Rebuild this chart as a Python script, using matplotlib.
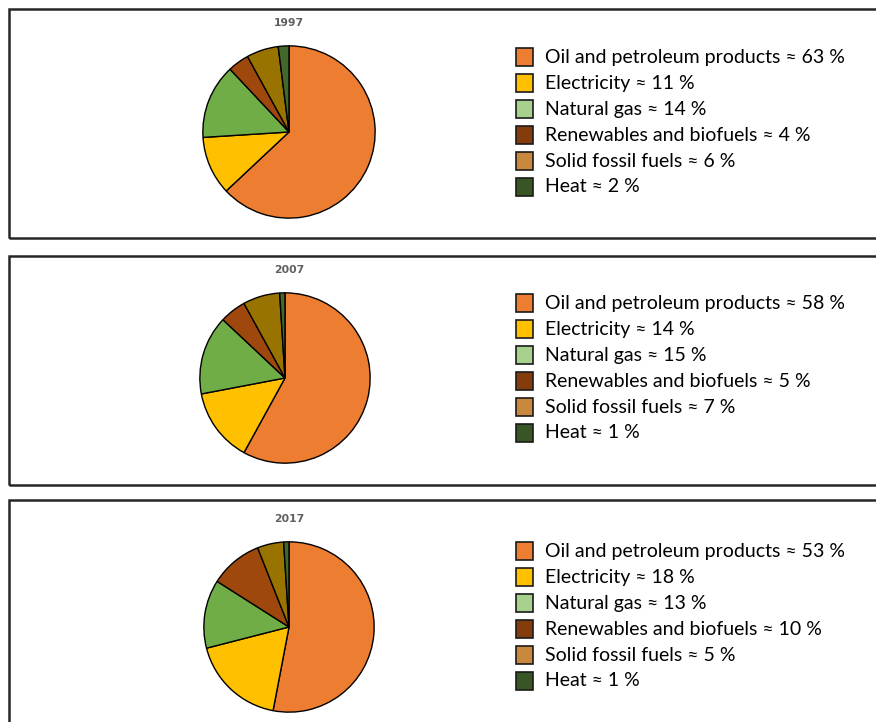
import matplotlib
matplotlib.use("Agg")
import matplotlib.pyplot as plt
from matplotlib.patches import Rectangle

# Final energy consumption by fuel, shares in percent
years = ["1997", "2007", "2017"]
categories = [
    "Oil and petroleum products",
    "Electricity",
    "Natural gas",
    "Renewables and biofuels",
    "Solid fossil fuels",
    "Heat",
]
shares_1997 = [63, 11, 14, 4, 6, 2]
shares_2007 = [58, 14, 15, 5, 7, 1]
shares_2017 = [53, 18, 13, 10, 5, 1]
all_shares = [shares_1997, shares_2007, shares_2017]

pie_colors = ["#ED7D31", "#FFC000", "#70AD47", "#9E480E", "#997300", "#43682B"]
legend_colors = ["#ED7D31", "#FFC000", "#A9D18E", "#843C0C", "#C9883E", "#375623"]

W, H = 876, 722
fig = plt.figure(figsize=(W / 100, H / 100), dpi=100)
fig.patch.set_facecolor("white")


def fx(px):
    return px / W


def fy(py):
    return 1 - py / H


# panel frames (top, bottom) in pixels
frames = [(9, 238), (256, 485), (500, 740)]
pie_centers = [(289, 132), (285, 378), (289, 627)]
pie_radius = [87, 86, 86]
title_y = [23, 270, 519]
legend_top = [57, 303, 551]
row_step = 25.9

for k in range(3):
    top, bot = frames[k]
    fig.patches.append(Rectangle((fx(9), fy(bot)), fx(900) - fx(9), fy(top) - fy(bot),
                                 transform=fig.transFigure, fill=False,
                                 edgecolor="#262626", linewidth=1.8, zorder=0))

    cx, cy = pie_centers[k]
    r = pie_radius[k]
    ax = fig.add_axes([fx(cx - r), fy(cy + r), 2 * r / W, 2 * r / H])
    ax.pie(all_shares[k], colors=pie_colors, startangle=90, counterclock=False,
           wedgeprops=dict(edgecolor="black", linewidth=1.0))
    ax.set_xlim(-1.01, 1.01)
    ax.set_ylim(-1.01, 1.01)
    ax.set_aspect("equal")
    ax.axis("off")

    fig.text(fx(289), fy(title_y[k]), years[k], ha="center", va="center",
             fontsize=7.8, fontweight="bold", color="#606060", family="DejaVu Sans")

    for i, (cat, val) in enumerate(zip(categories, all_shares[k])):
        yc = legend_top[k] + i * row_step
        fig.patches.append(Rectangle((fx(516), fy(yc + 9)), 17 / W, 18 / H,
                                     transform=fig.transFigure,
                                     facecolor=legend_colors[i], edgecolor="#1a1a1a",
                                     linewidth=1.2))
        fig.text(fx(545), fy(yc + 6), f"{cat} \u2248 {val} %", ha="left", va="baseline",
                 fontsize=14.0, color="black", family=["Lato", "DejaVu Sans"])

fig.savefig("out.png", dpi=100, facecolor="white")
